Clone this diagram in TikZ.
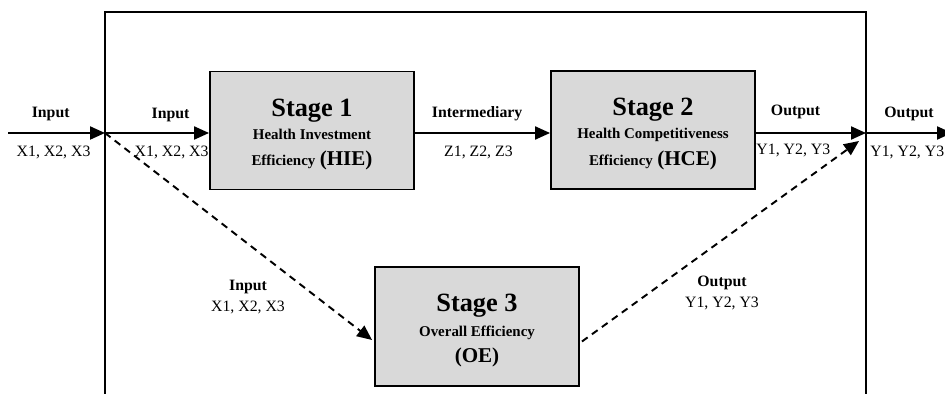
\documentclass[tikz,border=0pt]{standalone}
\usepackage{fontspec}
\setmainfont{Liberation Serif}
\usepackage{tikz}
\usetikzlibrary{arrows.meta, calc}
\definecolor{box_gray}{RGB}{217,217,217}
\newcommand{\stagefont}{\fontsize{15}{17}\selectfont\bfseries\rule{0pt}{14.5pt}}
\newcommand{\subfont}{\fontsize{8.5}{14}\selectfont\bfseries}
\newcommand{\abbfont}{\fontsize{12}{14}\selectfont\bfseries}
\tikzset{
  stagebox/.style={draw, line width=1.1pt, fill=box_gray, align=center, inner sep=0pt,
    minimum width=4.08cm, minimum height=2.36cm},
  flow/.style={line width=1.2pt, -{Triangle[length=3mm,width=2.6mm]}},
  dflow/.style={flow, dash pattern=on 4pt off 3pt, line width=1.1pt},
  lab/.style={font=\fontsize{9}{10}\selectfont\bfseries},
  val/.style={font=\fontsize{9}{11}\selectfont},
}

\begin{document}
\begin{tikzpicture}[x=0.02cm,y=-0.02cm]
            \useasboundingbox (0,0) rectangle (945,394);
            %外枠
            \draw[line width=1.1pt] (105,420)--(105,12)--(866,12)--(866,420);
            %ステージ
            \node[stagebox] (s1) at (312,130.5) {{\stagefont Stage 1}\\[1pt]{\subfont Health Investment}\\[3pt]{\subfont Efficiency} {\abbfont (HIE)}};
            \node[stagebox] (s2) at (653,130) {{\stagefont Stage 2}\\[1pt]{\subfont Health Competitiveness}\\[3pt]{\subfont Efficiency} {\abbfont (HCE)}};
            \node[stagebox, minimum height=2.38cm] (s3) at (477,326.5) {{\stagefont Stage 3}\\[2pt]{\subfont Overall Efficiency}\\[3pt]{\abbfont (OE)}};
            \coordinate (in) at (8,133);
            \coordinate (fL) at (105,133);
            \coordinate (fR) at (866,133);
            \coordinate (out) at (952,133);
            %実線の矢印
            \draw[flow] (in)--(fL)node[lab,pos=0.44,yshift=11pt]{Input}node[val,pos=0.47,yshift=-11pt]{X1, X2, X3};
            \draw[flow] (fL)--(s1.west|-fL)node[lab,pos=0.63,yshift=10pt]{Input}node[val,pos=0.64,yshift=-11pt]{X1, X2, X3};
            \draw[flow] (s1.east|-fL)--(s2.west|-fL)node[lab,pos=0.46,yshift=11pt]{Intermediary}node[val,pos=0.47,yshift=-11pt]{Z1, Z2, Z3};
            \draw[flow] (s2.east|-fL)--(fR)node[lab,pos=0.36,yshift=12pt]{Output}node[val,pos=0.34,yshift=-10pt]{Y1, Y2, Y3};
            \draw[flow] (fR)--(out)node[lab,pos=0.5,yshift=11pt]{Output}node[val,pos=0.48,yshift=-11pt]{Y1, Y2, Y3};
            %点線の矢印
            \draw[dflow] (fL)--($(s3.west)+(-2,13.5)$);
            \draw[dflow] ($(s3.east)+(2,15)$)--($(fR)+(-7,8)$);
            \node[lab] (inlab) at (248,287) {Input};
            \node[val] (inval) at (248,307) {X1, X2, X3};
            \node[lab] (outlab) at (722,283) {Output};
            \node[val] (outval) at (722,303) {Y1, Y2, Y3};
        \end{tikzpicture}
\end{document}
